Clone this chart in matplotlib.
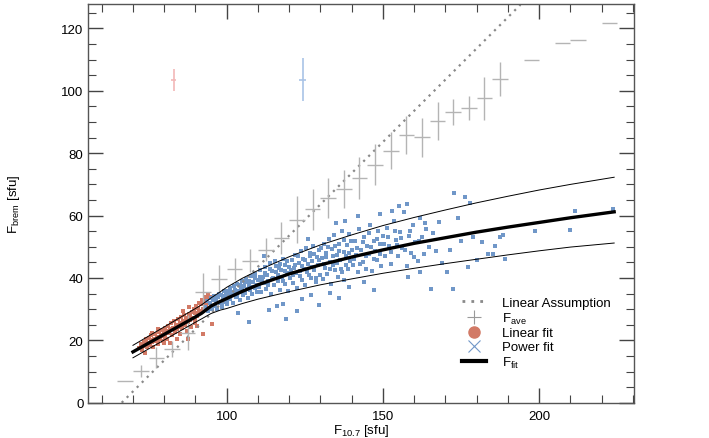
import matplotlib
matplotlib.use('Agg')
import matplotlib.pyplot as plt
from matplotlib.lines import Line2D
from matplotlib.ticker import MultipleLocator

plt.rcParams['font.family'] = ['Liberation Sans', 'DejaVu Sans']
plt.rcParams['mathtext.default'] = 'regular'
plt.rcParams['font.size'] = 9.5

# linear assumption (dotted)
la_x = [66.4, 194.0]
la_y = [0.0, 127.6]

# binned averages F_ave
fave_x = [67.5, 72.5, 77.5, 82.5, 87.5, 92.5, 97.5, 102.5, 107.5, 112.5, 117.5, 122.5, 127.5,
          132.5, 137.5, 142.5, 147.5, 152.5, 157.5, 162.5, 167.5, 172.5, 177.5, 182.5, 187.5,
          197.5, 207.5, 212.5, 222.5]
fave_y = [7.1, 10.1, 14.4, 17.3, 22.5, 35.6, 39.8, 42.9, 45.5, 49.1, 52.9, 58.7, 62.0,
          65.6, 68.5, 72.0, 76.3, 80.8, 85.8, 85.1, 90.3, 93.3, 94.5, 97.6, 103.8,
          110.0, 115.2, 116.4, 121.8]
fave_err = [0, 2.0, 3.4, 2.5, 5.5, 6.0, 4.4, 3.6, 3.7, 3.6, 5.2, 7.6, 6.6,
            6.5, 6.2, 6.8, 6.6, 6.0, 6.1, 6.3, 6.2, 4.2, 3.7, 6.8, 5.3,
            0, 0, 0, 0]

# averages of the two fit regimes
lin_ave = (83.1, 103.5, 0.8, 3.6)
pow_ave = (124.3, 103.6, 1.2, 6.8)

# fit curve and its envelope
fit_x = [70, 80, 90, 92, 95, 98, 100, 105, 110, 120, 130, 140, 150, 160, 170, 180, 190, 200, 210, 224]
fit_mid = [16.3, 21.9, 27.5, 28.7, 31.0, 32.5, 33.4, 35.7, 37.8, 41.3, 44.2, 46.7, 49.0, 51.1,
           52.9, 54.7, 56.3, 57.8, 59.3, 61.2]
fit_hi = [18.4, 24.3, 30.2, 31.4, 33.6, 35.6, 37.0, 39.9, 42.4, 46.8, 50.6, 53.8, 56.8, 59.4,
          61.8, 64.1, 66.2, 68.2, 70.0, 72.3]
fit_lo = [14.4, 20.1, 25.8, 26.9, 28.6, 29.7, 30.2, 31.8, 33.2, 35.6, 37.8, 39.7, 41.5, 43.1,
          44.6, 46.0, 47.4, 48.7, 49.9, 51.2]

# linear fit regime (red points)
red_x = [72.0, 72.5, 73.0, 73.4, 73.8, 74.1, 74.5, 74.8, 75.2, 75.5, 75.9, 76.2, 76.5, 76.8, 77.1,
         77.4, 77.7, 78.0, 78.3, 78.6, 78.9, 79.2, 79.5, 79.8, 80.1, 80.4, 80.7, 81.0, 81.3, 81.6,
         81.9, 82.2, 82.5, 82.8, 83.1, 83.4, 83.7, 84.0, 84.3, 84.6, 84.9, 85.2, 85.5, 85.8, 86.1,
         86.4, 86.7, 87.0, 87.3, 87.6, 87.9, 88.2, 88.5, 88.8, 89.1, 89.4, 89.7, 90.0, 90.3, 90.6,
         90.9, 91.2, 91.5, 91.8, 92.1, 92.4, 92.7, 93.0, 93.3, 93.6, 94.0, 94.3, 94.6, 80.0, 78.0,
         76.0, 84.0, 86.0, 88.0, 90.5, 92.5, 74.0, 82.0, 85.0, 87.5, 95.2, 73.2, 75.7, 77.9, 79.6,
         81.4, 83.0, 85.6, 89.9, 91.0, 93.8, 86.9, 88.4]
red_y = [17.5, 18.8, 16.9, 19.5, 18.2, 20.3, 17.8, 19.0, 20.8, 18.5, 21.6, 19.4, 17.9, 20.5, 22.0,
         19.8, 21.2, 18.9, 22.6, 20.4, 21.8, 23.3, 19.9, 22.1, 24.0, 21.0, 22.9, 20.3, 24.6, 22.4,
         23.6, 25.5, 21.7, 24.1, 26.2, 22.8, 25.0, 23.5, 26.8, 24.4, 21.9, 25.7, 27.4, 23.9, 26.3,
         28.1, 24.8, 27.0, 22.9, 25.9, 28.6, 26.5, 24.2, 29.2, 27.3, 30.0, 25.6, 28.8, 31.0, 27.9,
         30.4, 32.1, 29.5, 31.5, 33.0, 30.2, 32.6, 34.0, 31.3, 33.4, 34.5, 32.0, 33.8, 19.3, 23.6,
         22.5, 20.5, 29.4, 30.6, 24.5, 22.1, 15.8, 19.0, 22.0, 20.3, 25.1, 18.1, 20.0, 20.1, 21.3,
         23.0, 23.8, 24.6, 26.4, 29.0, 31.9, 26.0, 27.8]

# power fit regime (blue points)
blue_x = [93.2, 93.7, 94.1, 94.5, 94.9, 95.3, 95.6, 96.0, 96.3, 96.7, 97.0, 97.4, 97.7, 98.1, 98.4,
          98.8, 99.1, 99.5, 99.8, 100.2,
          100.5, 100.9, 101.2, 101.6, 102.0, 102.3, 102.7, 103.0, 103.4, 103.8, 104.1, 104.5, 104.9,
          105.2, 105.6, 106.0, 106.3, 106.7, 107.0, 107.4, 107.8, 108.1, 108.5, 108.9, 109.2, 109.6,
          110.0, 107.0, 103.5,
          110.4, 110.8, 111.1, 111.5, 111.9, 112.2, 112.6, 113.0, 113.3, 113.7, 114.1, 114.4, 114.8,
          115.2, 115.5, 115.9, 116.3, 116.6, 117.0, 117.4, 117.7, 118.1, 118.5, 118.8, 119.2, 119.6,
          120.0, 113.5, 116.0, 119.0, 118.0, 112.0,
          120.4, 120.8, 121.1, 121.5, 121.9, 122.2, 122.6, 123.0, 123.3, 123.7, 124.1, 124.4, 124.8,
          125.2, 125.5, 125.9, 126.3, 126.6, 127.0, 127.4, 127.7, 128.1, 128.5, 128.8, 129.2, 129.6,
          130.0, 124.0, 127.0, 129.5, 126.0, 122.5,
          130.4, 130.8, 131.1, 131.5, 131.9, 132.2, 132.6, 133.0, 133.3, 133.7, 134.1, 134.4, 134.8,
          135.2, 135.5, 135.9, 136.3, 136.6, 137.0, 137.4, 137.7, 138.1, 138.5, 138.8, 139.2, 139.6,
          140.0, 133.0, 136.0, 139.0, 135.0, 138.0,
          140.5, 141.0, 141.5, 142.0, 142.5, 143.0, 143.5, 144.0, 144.5, 145.0, 145.5, 146.0, 146.5,
          147.0, 147.5, 148.0, 148.5, 149.0, 149.5, 150.0, 144.0, 147.0, 142.0, 149.0,
          150.6, 151.3, 152.0, 152.7, 153.4, 154.1, 154.8, 155.5, 156.2, 156.9, 157.6, 158.3, 159.0,
          159.7, 160.4, 161.1, 161.8, 162.5, 163.2, 163.9, 164.6, 158.0, 162.0, 155.0, 165.3, 157.8,
          153.0,
          166.0, 167.0, 168.0, 169.0, 170.4, 171.4, 172.5, 172.7, 174.1, 175.0, 176.2, 177.3, 178.0,
          178.9, 180.0, 181.6, 183.7, 185.3, 187.5, 189.0, 186.0, 188.5,
          198.8, 209.8, 211.4, 223.7]
blue_y = [30.8, 32.5, 29.4, 31.9, 33.6, 30.2, 32.8, 34.1, 31.0, 33.3, 29.9, 35.0, 32.1, 34.4, 30.8,
          33.6, 35.7, 32.4, 34.9, 31.6,
          35.8, 33.2, 36.9, 34.5, 32.0, 37.4, 35.1, 33.8, 38.2, 35.9, 32.9, 36.8, 39.0,
          34.6, 37.5, 35.2, 39.8, 33.7, 37.9, 36.0, 40.6, 34.9, 38.6, 36.7, 41.2, 35.5,
          39.4, 25.8, 28.8,
          37.1, 42.5, 35.4, 40.2, 38.3, 43.6, 36.4, 41.0, 39.1, 44.8, 34.8, 42.1, 40.0,
          37.6, 45.3, 41.8, 38.9, 43.2, 36.2, 42.6, 40.4, 46.1, 38.0, 44.0, 41.5, 35.9,
          43.5, 29.8, 30.9, 26.8, 31.8, 47.2,
          40.0, 45.8, 38.4, 43.1, 47.5, 41.6, 36.9, 44.7, 42.3, 48.6, 39.4, 46.0, 43.0,
          37.8, 49.5, 44.5, 41.1, 47.1, 39.9, 45.4, 50.3, 42.6, 38.7, 46.6, 44.0, 48.9,
          41.0, 33.3, 34.6, 31.2, 52.4, 29.5,
          46.5, 39.6, 50.8, 43.3, 47.9, 41.2, 52.6, 45.1, 38.2, 49.2, 44.0, 53.8, 42.4,
          47.4, 40.3, 51.0, 45.8, 43.0, 55.1, 48.3, 39.5, 46.9, 50.5, 42.8, 54.0, 45.4,
          49.1, 35.3, 33.7, 37.0, 57.6, 58.4,
          44.1, 51.9, 47.3, 41.8, 55.6, 49.0, 45.2, 53.2, 43.0, 50.4, 47.8, 57.0, 42.2,
          52.0, 48.6, 45.6, 55.0, 50.9, 43.9, 53.5, 38.6, 36.2, 59.8, 60.5,
          47.2, 55.9, 50.3, 44.6, 58.4, 52.2, 46.9, 54.8, 49.5, 61.0, 43.8, 53.6, 48.1,
          56.9, 51.4, 45.5, 59.3, 53.0, 47.6, 55.7, 50.0, 40.2, 42.0, 63.2, 36.6, 63.8,
          61.4,
          54.5, 48.6, 57.8, 44.7, 41.9, 48.9, 36.6, 67.3, 59.2, 52.0, 65.9, 43.5, 63.9,
          53.1, 45.7, 51.4, 47.8, 47.8, 53.2, 46.2, 50.3, 53.8,
          54.9, 55.4, 61.4, 62.2]

# more power fit points in the dense part of the cloud
blue2_x = [95.8, 96.5, 97.2, 98.6, 99.3, 100.0, 100.7, 101.4, 102.5, 103.2, 104.3, 105.0, 105.8,
           106.5, 107.2, 108.3, 109.0, 109.8, 110.6, 111.3, 112.4, 113.1, 113.9, 114.6, 115.7,
           116.4, 117.2, 117.9, 118.7, 119.4, 120.6, 121.3, 122.0, 122.8, 123.5, 124.2, 125.0,
           125.7, 126.5, 127.2, 128.0, 128.7, 129.4, 130.2, 131.0, 131.7, 132.4, 133.2, 133.9,
           134.6, 135.4, 136.1, 136.8, 137.6, 138.3, 139.0, 139.8, 140.8, 141.7, 142.7, 143.6,
           144.6, 145.4, 146.3, 147.3, 148.2, 149.2, 150.3, 151.6, 152.5, 153.8, 154.6, 155.9,
           157.1, 158.8, 160.0, 161.5, 163.5]
blue2_y = [33.0, 32.2, 33.9, 31.8, 34.2, 32.9, 34.8, 35.6, 36.0, 34.2, 37.9, 36.3, 38.8,
           36.5, 39.1, 37.2, 39.9, 37.6, 40.3, 38.9, 41.5, 37.8, 42.9, 39.6, 43.9,
           40.9, 44.4, 39.0, 42.3, 45.5, 42.7, 40.8, 44.2, 46.9, 40.6, 43.8, 45.9,
           42.0, 48.0, 43.6, 47.6, 40.1, 45.8, 49.7, 44.6, 46.6, 49.9, 42.9, 47.0,
           50.2, 44.9, 48.7, 41.8, 52.2, 44.3, 48.0, 51.8, 46.0, 49.6, 44.4, 51.5,
           47.0, 54.3, 49.8, 46.2, 52.6, 47.6, 50.9, 53.1, 48.3, 55.2, 50.6, 52.7,
           48.9, 55.0, 46.7, 52.0, 57.6]

GREY = '#b4b4b4'
RED = '#d27a66'
BLUE = '#7097c8'

fig = plt.figure(figsize=(7.09, 4.39), dpi=100)
ax = fig.add_axes([0.1245, 0.079, 0.7695, 0.9107])

ax.plot(la_x, la_y, ls=(0, (1, 2.2)), color='#8a8a8a', lw=1.6)
ax.errorbar(fave_x, fave_y, xerr=2.5, yerr=fave_err, fmt='none', ecolor=GREY, elinewidth=1.0, capsize=0)
ax.errorbar([lin_ave[0]], [lin_ave[1]], xerr=lin_ave[2], yerr=lin_ave[3], fmt='none',
            ecolor='#f2b8b8', elinewidth=1.2, capsize=0)
ax.errorbar([pow_ave[0]], [pow_ave[1]], xerr=pow_ave[2], yerr=pow_ave[3], fmt='none',
            ecolor='#a9c3e6', elinewidth=1.2, capsize=0)

ax.scatter(red_x, red_y, s=5, marker='s', color=RED, linewidths=0)
ax.scatter(blue_x + blue2_x, blue_y + blue2_y, s=5, marker='s', color=BLUE, linewidths=0)

ax.plot(fit_x, fit_hi, color='black', lw=0.7)
ax.plot(fit_x, fit_lo, color='black', lw=0.7)
ax.plot(fit_x, fit_mid, color='black', lw=2.4)

ax.set_xlim(55.7, 230.3)
ax.set_ylim(-0.2, 128)
ax.xaxis.set_major_locator(MultipleLocator(50))
ax.xaxis.set_minor_locator(MultipleLocator(10))
ax.yaxis.set_major_locator(MultipleLocator(20))
ax.yaxis.set_minor_locator(MultipleLocator(5))
ax.tick_params(which='both', direction='in', top=True, right=True, color='#444444', labelsize=9.5)
ax.tick_params(which='major', length=11, width=1.0)
ax.tick_params(which='minor', length=5.5, width=0.8)
ax.tick_params(axis='x', pad=5)
for s in ax.spines.values():
    s.set_color('#555555')
    s.set_linewidth(1.0)

ax.set_xlabel('F$_{10.7}$ [sfu]', fontsize=9.5, labelpad=0)
ax.set_ylabel('F$_{brem}$ [sfu]', fontsize=9.5, labelpad=28)

handles = [
    Line2D([], [], ls=(0, (1, 2.2)), color='#8a8a8a', lw=2),
    Line2D([], [], ls='none', marker='+', color='#9a9a9a', ms=10, mew=0.8),
    Line2D([], [], ls='none', marker='o', color=RED, ms=8),
    Line2D([], [], ls='none', marker='x', color=BLUE, ms=8, mew=0.8),
    Line2D([], [], color='black', lw=3),
]
labels = ['Linear Assumption', 'F$_{ave}$', 'Linear fit', 'Power fit', 'F$_{fit}$']
ax.legend(handles, labels, loc='upper left', bbox_to_anchor=(0.668, 0.29), frameon=False,
          fontsize=9.5, handlelength=1.8, handletextpad=1.2, labelspacing=0.12, borderpad=0.2)

fig.savefig('out.png', dpi=100)
